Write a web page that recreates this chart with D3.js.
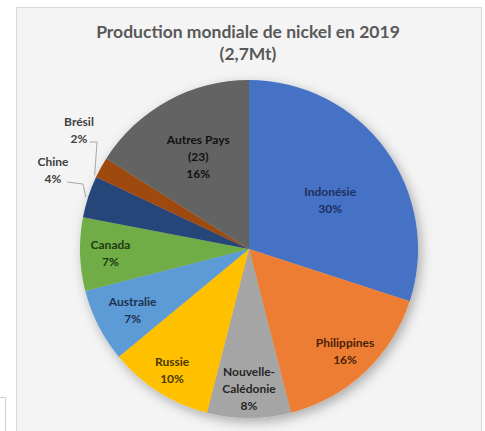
<!DOCTYPE html>
<html><head><meta charset="utf-8">
<script src="https://cdn.jsdelivr.net/npm/d3@7"></script>
<style>html,body{margin:0;padding:0;background:#fff;}svg{display:block;}</style>
</head><body>
<svg id="c" width="485" height="431"></svg>
<script>
const countries = ["Indonésie","Philippines","Nouvelle-Calédonie","Russie","Australie","Canada","Chine","Brésil","Autres Pays (23)"];
const shares = [30,16,8,10,7,7,4,2,16];
const labelLines = [["Indonésie"],["Philippines"],["Nouvelle-","Calédonie"],["Russie"],["Australie"],["Canada"],["Chine"],["Brésil"],["Autres Pays","(23)"]];
const fills = ["#4472C4","#ED7D31","#A5A5A5","#FFC000","#5B9BD5","#70AD47","#264478","#9E480E","#636363"];
const textFills = ["#1F2F5C","#4A2208","#262626","#4A3800","#1F3050","#1E3A10","#333333","#333333","#111111"];
const titleLines = ["Production mondiale de nickel en 2019","(2,7Mt)"];

const svg = d3.select("#c");
const font = "Lato, 'Liberation Sans', sans-serif";

// panel
svg.append("rect").attr("x",16.5).attr("y",7.5).attr("width",465).attr("height",430)
  .attr("fill","#f4f4f4").attr("stroke","#d9d9d9");
svg.append("path").attr("d","M0,397.5H5.5V431").attr("fill","none").attr("stroke","#cfcfcf");

const defs = svg.append("defs");
const f = defs.append("filter").attr("id","sh").attr("x","-20%").attr("y","-20%").attr("width","140%").attr("height","140%");
f.append("feDropShadow").attr("dx",3).attr("dy",4).attr("stdDeviation",6).attr("flood-color","#000").attr("flood-opacity",0.3);

// title
svg.append("text").attr("x",248).attr("y",38).attr("text-anchor","middle")
  .attr("font-family",font).attr("font-weight","bold").attr("font-size",17.5).attr("fill","#595959")
  .selectAll("tspan").data(titleLines).join("tspan")
  .attr("x",248).attr("dy",(d,i)=>i?22:0).text(d=>d);

const cx = 249, cy = 249, R = 169;
const pie = d3.pie().sort(null).value(d=>d.v);
const data = countries.map((c,i)=>({name:c,v:shares[i],i}));
const arcs = pie(data);
const arc = d3.arc().innerRadius(0).outerRadius(R);

const g = svg.append("g").attr("transform",`translate(${cx},${cy})`);
g.append("g").attr("filter","url(#sh)").selectAll("path").data(arcs).join("path")
  .attr("d",arc).attr("fill",d=>fills[d.data.i]);

// label placement (layout only)
const place = {
  0:{r:0.56,a:59}, 8:{r:0.62,a:331}, 1:{r:0.83}, 2:{r:0.83}, 3:{r:0.85}, 4:{r:0.78,a:242}, 5:{r:0.82}
};
const outside = {6:{x:-196,y:-79}, 7:{x:-170,y:-119}};
const lh = 17;
arcs.forEach(d=>{
  const i = d.data.i;
  let x, y;
  if (outside[i]) { x = outside[i].x; y = outside[i].y; }
  else {
    const p = place[i];
    const mid = p.a!==undefined ? p.a*Math.PI/180 : (d.startAngle+d.endAngle)/2;
    x = Math.sin(mid)*R*p.r; y = -Math.cos(mid)*R*p.r;
  }
  const lines = labelLines[i].concat([d.data.v+"%"]);
  const t = g.append("text").attr("text-anchor","middle").attr("font-family",font)
    .attr("font-weight","bold").attr("font-size",12)
    .attr("fill",outside[i]?"#404040":textFills[i]);
  const y0 = y - (lines.length-1)*lh/2 + 4;
  lines.forEach((s,k)=>t.append("tspan").attr("x",x).attr("y",y0+k*lh).text(s));
});

// leader lines
const lead = d3.line();
const edge = (deg,rr)=>[Math.sin(deg*Math.PI/180)*rr, -Math.cos(deg*Math.PI/180)*rr];
g.append("path").attr("fill","none").attr("stroke","#a6a6a6").attr("stroke-width",1)
  .attr("d",lead([[-159,-107],[-152,-107],edge(295.5,R+2)]));
g.append("path").attr("fill","none").attr("stroke","#a6a6a6").attr("stroke-width",1)
  .attr("d",lead([[-182,-67],[-166,-65],edge(287.5,R+2)]));
</script>
</body></html>
